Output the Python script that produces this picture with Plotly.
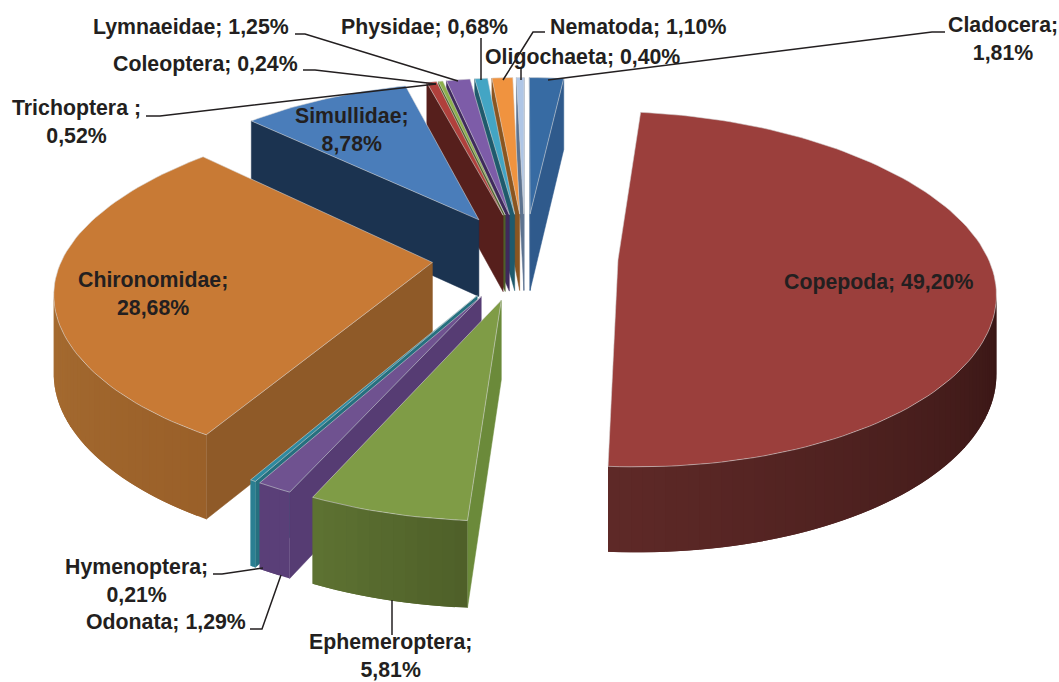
import math
import plotly.graph_objects as go

categories = ["Cladocera", "Copepoda", "Ephemeroptera", "Odonata", "Hymenoptera", "Chironomidae",
              "Simullidae", "Trichoptera", "Coleoptera", "Lymnaeidae", "Physidae", "Nematoda", "Oligochaeta"]
values = [1.81, 49.20, 5.81, 1.29, 0.21, 28.68, 8.78, 0.52, 0.24, 1.25, 0.68, 1.10, 0.40]

# style: top colour, cut-face colour, outer wall colours (first visible to last visible)
styles = {
    "Cladocera": ("#376BA3", "#2F5A8C", "#2A4F7C", "#2A4F7C"),
    "Copepoda": ("#9B3F3C", "#5A2524", "#381615", "#5E2927"),
    "Ephemeroptera": ("#7F9C46", "#6B8A3A", "#4F6029", "#5D7232"),
    "Odonata": ("#6F5290", "#563C73", "#5A3F78", "#5A3F78"),
    "Hymenoptera": ("#2F8AA0", "#25707F", "#2A7F92", "#2A7F92"),
    "Chironomidae": ("#C87A35", "#8F5A28", "#9A6029", "#A56B30"),
    "Simullidae": ("#4A7DBA", "#1B3350", "#1B3350", "#1B3350"),
    "Trichoptera": ("#B0403C", "#561F1C", "#561F1C", "#561F1C"),
    "Coleoptera": ("#8DB04C", "#4F6029", "#4F6029", "#4F6029"),
    "Lymnaeidae": ("#7D5CA8", "#3F2A5C", "#3F2A5C", "#3F2A5C"),
    "Physidae": ("#43A5C4", "#1F5A6C", "#1F5A6C", "#1F5A6C"),
    "Nematoda": ("#F0933F", "#8A5520", "#8A5520", "#8A5520"),
    "Oligochaeta": ("#AFC6E6", "#5D7390", "#5D7390", "#5D7390"),
}
draw_order = ["Cladocera", "Oligochaeta", "Nematoda", "Physidae", "Lymnaeidae", "Coleoptera", "Trichoptera",
              "Simullidae", "Chironomidae", "Copepoda", "Hymenoptera", "Odonata", "Ephemeroptera"]
radius_trim = {"Ephemeroptera": 0.985, "Odonata": 0.985, "Hymenoptera": 0.985, "Chironomidae": 0.985}

# projection of the exploded 3-D pie
CX, CY, R, EXPLODE, TILT, PERSP, DEPTH, BULGE = 525, 256, 365, 93, 0.47, 0.00045, 78, 0.012
START = 0.0


def project(X, Y):
    s = 1 / (1 - PERSP * Y)
    return CX + s * X, CY + s * TILT * Y, DEPTH * math.sqrt(s)


def hex2rgb(h):
    return [int(h[i:i + 2], 16) for i in (1, 3, 5)]


def mix(a, b, f):
    ca, cb = hex2rgb(a), hex2rgb(b)
    return "rgb(%d,%d,%d)" % tuple(round(x + (y - x) * f) for x, y in zip(ca, cb))


fig = go.Figure()


def poly(xs, ys, fill, line=None, width=0.0):
    fig.add_trace(go.Scatter(x=xs + xs[:1], y=ys + ys[:1], mode="lines", fill="toself", fillcolor=fill,
                             line=dict(color=line or fill, width=width), hoverinfo="skip", showlegend=False))


total = sum(values)
angles = {}
acc = START
for c, v in zip(categories, values):
    angles[c] = (acc, acc + v / total * 360)
    acc += v / total * 360

for name in draw_order:
    t0, t1 = angles[name]
    mid = math.radians((t0 + t1) / 2)
    ox, oy = EXPLODE * math.sin(mid), -EXPLODE * math.cos(mid)
    top_c, face_c, wall_a, wall_b = styles[name]
    n = max(2, int((t1 - t0) / 1.5))
    pts = [project(ox, oy)]
    rad = R * radius_trim.get(name, 1.0)
    for i in range(n + 1):
        a = math.radians(t0 + (t1 - t0) * i / n)
        rr = rad * (1 + BULGE * abs(math.sin(a)) ** 4)
        if name == "Chironomidae":
            rr = rr * (1 + 0.015 * abs(math.sin(a)) ** 4)
        pts.append(project(ox + rr * math.sin(a), oy - rad * math.cos(a)))
    m = len(pts)
    edges = [(i, (i + 1) % m) for i in range(m)]
    vis = [(i, j) for i, j in edges if pts[j][0] < pts[i][0]]
    arc = [(i, j) for i, j in vis if i != 0 and j != 0]
    k = 0
    for i, j in vis:
        p, q = pts[i], pts[j]
        if i == 0 or j == 0:
            poly([p[0], q[0], q[0], p[0]], [p[1], q[1], q[1] + q[2], p[1] + p[2]], face_c, width=0.5)
        else:
            col = mix(wall_a, wall_b, k / max(1, len(arc) - 1))
            k += 1
            # overlap the next strip a little so no seam shows between strips
            nxt = pts[j + 1] if (j + 1 < m and (j, j + 1) in arc) else q
            poly([p[0], q[0], nxt[0], nxt[0], q[0], p[0]],
                 [p[1], q[1], nxt[1], nxt[1] + nxt[2], q[1] + q[2], p[1] + p[2]], col)
    poly([p[0] for p in pts], [p[1] for p in pts], top_c, "rgba(215,215,215,0.55)", 1)

# leader lines
leaders = [
    ([548, 932, 945], [80, 32, 32]),
    ([503, 533, 545], [80, 32, 32]),
    ([521, 521], [80, 67]),
    ([481, 481], [80, 38]),
    ([458, 305, 295], [81, 34, 34]),
    ([436, 315, 303], [84, 70, 70]),
    ([436, 160, 146], [84, 116, 116]),
    ([263, 222, 213], [568, 574, 574]),
    ([281, 262, 250], [575, 629, 629]),
    ([392, 392], [600, 635]),
]
for lx, ly in leaders:
    fig.add_trace(go.Scatter(x=lx, y=ly, mode="lines", line=dict(color="#231F20", width=1.5),
                             hoverinfo="skip", showlegend=False))

labels = [
    ("Cladocera;<br>1,81%", 1003, 39), ("Nematoda; 1,10%", 638, 27), ("Oligochaeta; 0,40%", 582, 57),
    ("Physidae; 0,68%", 424, 27), ("Lymnaeidae; 1,25%", 191, 27), ("Coleoptera; 0,24%", 205, 64),
    ("Trichoptera ;<br>0,52%", 76, 122), ("Simullidae;<br>8,78%", 352, 130), ("Chironomidae;<br>28,68%", 153, 294),
    ("Copepoda; 49,20%", 878, 282), ("Hymenoptera;<br>0,21%", 136, 581), ("Odonata; 1,29%", 166, 622),
    ("Ephemeroptera;<br>5,81%", 390, 656),
]
for text, x, y in labels:
    fig.add_annotation(x=x, y=y, text="<b>" + text.replace("<br>", "</b><br><b>") + "</b>", showarrow=False,
                       xanchor="center", yanchor="middle", align="center",
                       font=dict(family="Liberation Sans", size=21.3, color="#231F20"))

fig.update_layout(
    width=1059, height=682, margin=dict(l=0, r=0, t=0, b=0),
    paper_bgcolor="white", plot_bgcolor="white", showlegend=False,
    xaxis=dict(range=[0, 1059], visible=False, fixedrange=True),
    yaxis=dict(range=[682, 0], visible=False, fixedrange=True),
)
fig.write_html("out.html", config={"displayModeBar": False},
               post_script="document.body.style.margin='0';document.body.style.overflow='hidden';")
